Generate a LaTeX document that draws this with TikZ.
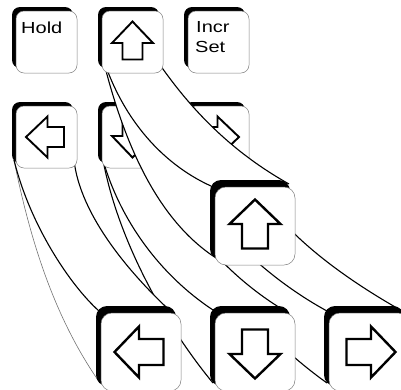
\documentclass[tikz,border=0pt]{standalone}
\usepackage{graphicx}
\usepackage{fontspec}
\setsansfont{Liberation Sans}
\begin{document}
\begin{tikzpicture}[x=1pt,y=-1pt,
  keyface/.style={fill=white, draw=black!50, line width=0.5pt},
  keyshadow/.style={fill=black},
  sweepline/.style={draw=black, line width=1.1pt},
  thinline/.style={draw=black!55, line width=0.6pt},
  sweepfill/.style={fill=white},
  arrowshape/.style={draw=black, fill=white, line join=miter},
  keytext/.style={font=\sffamily\fontsize{16}{19}\selectfont, inner sep=0pt, anchor=base west},
  smallkey/.pic={
    \fill[keyshadow, rounded corners=8pt] (0,0) rectangle (61,61);
    \draw[keyface, rounded corners=8pt] (4,4) rectangle (65,66);
  },
  bigkey/.pic={
    \fill[keyshadow, rounded corners=11pt] (0,0) rectangle (80,80);
    \draw[keyface, rounded corners=11pt] (5,7) rectangle (85,85);
  },
  smallarrow/.pic={
    \draw[arrowshape, line width=1.9pt] (0,-20.5) -- (20.5,1) -- (10,1) -- (10,17.5) -- (-10,17.5) -- (-10,1) -- (-20.5,1) -- cycle;
  },
  bigarrow/.pic={
    \draw[arrowshape, line width=2.4pt] (0,-26.5) -- (25.5,-2) -- (13,-2) -- (13,22.5) -- (-13,22.5) -- (-13,-2) -- (-25.5,-2) -- cycle;
  }
]
\useasboundingbox (0,0) rectangle (401,389);
\clip (0,0) rectangle (401,389);

% ---------- sweep D : small right -> big right
\coordinate (dL) at (188,160);
\coordinate (dR) at (246,160);
\coordinate (dBL) at (327,383);
\coordinate (dTL) at (327,311);
\coordinate (dTR) at (404,312);
\fill[sweepfill] (dL) .. controls (192,260) and (260,335) .. (dBL) -- (360,350) -- (dTR) .. controls (320,265) and (258,210) .. (dR) -- cycle;
\draw[sweepline] (dL) .. controls (192,260) and (260,335) .. (dBL);
\draw[sweepline] (dL) .. controls (200,220) and (270,280) .. (dTL);
\draw[sweepline] (dR) .. controls (258,210) and (320,265) .. (dTR);

% ---------- sweep C : small down -> big down
\coordinate (cL) at (103,160);
\coordinate (cR) at (160,160);
\coordinate (cBL) at (213,383);
\coordinate (cTL) at (213,310);
\coordinate (cTR) at (287,312);
\fill[sweepfill] (cL) .. controls (118,240) and (165,325) .. (cBL) -- (250,350) -- (cTR) .. controls (240,285) and (180,230) .. (cR) -- cycle;
\draw[sweepline] (cL) .. controls (118,240) and (165,325) .. (cBL);
\draw[sweepline] (cL) .. controls (120,220) and (160,275) .. (cTL);
\draw[sweepline] (cR) .. controls (180,230) and (240,285) .. (cTR);

% ---------- sweep B : small left -> big left
\coordinate (bL) at (14,160);
\coordinate (bR) at (74,160);
\coordinate (bBL) at (100,383);
\coordinate (bTL) at (99,311);
\coordinate (bTR) at (178,318);
\fill[sweepfill] (bL) .. controls (32,250) and (58,323) .. (bBL) -- (120,340) -- (bTR) .. controls (130,275) and (80,215) .. (bR) -- cycle;
\draw[thinline] (bL) .. controls (32,250) and (58,323) .. (bBL);
\draw[sweepline] (bL) .. controls (30,225) and (70,285) .. (bTL);
\draw[sweepline] (bR) .. controls (80,215) and (130,275) .. (bTR);

% ---------- second row of small keys
\pic at (12,102) {smallkey};
\pic[rotate=90] at (46.5,137) {smallarrow};
\pic at (98,102) {smallkey};
\pic[rotate=180] at (132.5,137) {smallarrow};
\pic at (184,102) {smallkey};
\pic[rotate=-90] at (218.5,137) {smallarrow};

% ---------- sweep A : small up -> big up
\coordinate (aL) at (102,55);
\coordinate (aR) at (158,62);
\coordinate (aBL) at (213,256);
\coordinate (aTL) at (211,186);
\coordinate (aTR) at (289,184);
\fill[sweepfill] (aL) .. controls (125,150) and (160,220) .. (aBL) -- (aTL) -- (aTR) .. controls (241,157) and (198,120) .. (aR) -- cycle;
\draw[sweepline] (aL) .. controls (125,150) and (160,220) .. (aBL);
\draw[sweepline] (aL) .. controls (125,128) and (171,168) .. (aTL);
\draw[sweepline] (aR) .. controls (198,120) and (241,157) .. (aTR);

% ---------- top row of small keys
\pic at (12,7) {smallkey};
\node[keytext] (hold) at (21,33) {\scalebox{1.25}[1]{Hold}};
\pic at (98,7) {smallkey};
\pic at (132.5,42) {smallarrow};
\pic at (184,7) {smallkey};
\node[keytext] (incr) at (196,32) {\scalebox{1.25}[1]{Incr}};
\node[keytext] (set) at (195,52) {\scalebox{1.25}[1]{Set}};

% ---------- big keys
\pic at (210,180) {bigkey};
\pic at (255,226) {bigarrow};
\pic at (96,306) {bigkey};
\pic[rotate=90] at (141,352) {bigarrow};
\pic at (210,306) {bigkey};
\pic[rotate=180] at (255,352) {bigarrow};
\pic at (324,306) {bigkey};
\pic[rotate=-90] at (369,352) {bigarrow};
\end{tikzpicture}
\end{document}
